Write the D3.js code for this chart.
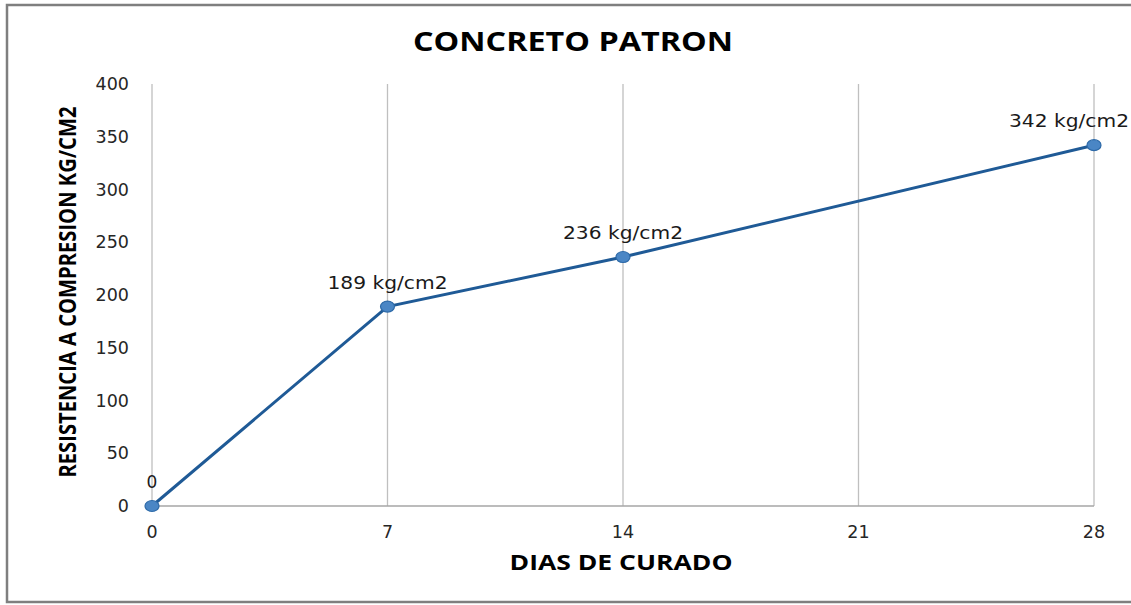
<!DOCTYPE html>
<html>
<head>
<meta charset="utf-8">
<script src="https://cdn.jsdelivr.net/npm/d3@7.9.0/dist/d3.min.js"></script>
<style>
  html, body { margin: 0; padding: 0; background: #fff; }
  svg { display: block; font-family: "Open Sans", "DejaVu Sans", sans-serif; }
  .tick-label { font-family: "DejaVu Sans", sans-serif; }
</style>
</head>
<body>
<svg id="chart" width="1131" height="605"></svg>
<script>
const days = [0, 7, 14, 28];
const strength = [0, 189, 236, 342];
const pointLabels = ["0", "189 kg/cm2", "236 kg/cm2", "342 kg/cm2"];
const xTicks = [0, 7, 14, 21, 28];
const yTicks = [0, 50, 100, 150, 200, 250, 300, 350, 400];

const svg = d3.select("#chart");

// outer frame (right side runs off the picture)
svg.append("rect")
  .attr("x", 7).attr("y", 5)
  .attr("width", 1140).attr("height", 597)
  .attr("fill", "#fff")
  .attr("stroke", "#7f7f7f")
  .attr("stroke-width", 2.5);

const x = d3.scaleLinear().domain([0, 28]).range([152, 1094]);
const y = d3.scaleLinear().domain([0, 400]).range([506, 84]);

// vertical gridlines
svg.append("g")
  .selectAll("line")
  .data(xTicks)
  .join("line")
  .attr("x1", (d) => x(d)).attr("x2", (d) => x(d))
  .attr("y1", y(400)).attr("y2", y(0))
  .attr("stroke", "#bfbfbf")
  .attr("stroke-width", 1.3);

// horizontal axis line
svg.append("line")
  .attr("x1", x(0)).attr("x2", x(28))
  .attr("y1", y(0)).attr("y2", y(0))
  .attr("stroke", "#a6a6a6")
  .attr("stroke-width", 1.3);

// tick labels (wide, like the stretched original)
svg.append("g")
  .selectAll("text")
  .data(yTicks)
  .join("text")
  .attr("class", "tick-label")
  .attr("x", 129)
  .attr("y", (d) => y(d) + 6)
  .attr("text-anchor", "end")
  .attr("font-size", 17.5)
  .attr("fill", "#262626")
  .text((d) => d);

svg.append("g")
  .selectAll("text")
  .data(xTicks)
  .join("text")
  .attr("class", "tick-label")
  .attr("x", (d) => x(d))
  .attr("y", 538)
  .attr("text-anchor", "middle")
  .attr("font-size", 17.5)
  .attr("fill", "#262626")
  .text((d) => d);

// title and axis titles
svg.append("text")
  .attr("x", 573).attr("y", 51)
  .attr("text-anchor", "middle")
  .attr("font-size", 27)
  .attr("font-weight", "bold")
  .attr("textLength", 320)
  .attr("lengthAdjust", "spacingAndGlyphs")
  .text("CONCRETO PATRON");

svg.append("text")
  .attr("x", 621).attr("y", 570)
  .attr("text-anchor", "middle")
  .attr("font-size", 22)
  .attr("font-weight", "bold")
  .attr("textLength", 223)
  .attr("lengthAdjust", "spacingAndGlyphs")
  .text("DIAS DE CURADO");

svg.append("text")
  .attr("transform", "translate(76,292) rotate(-90)")
  .attr("text-anchor", "middle")
  .attr("font-size", 24)
  .attr("font-weight", "bold")
  .attr("textLength", 371)
  .attr("lengthAdjust", "spacingAndGlyphs")
  .text("RESISTENCIA A COMPRESION KG/CM2");

// series line
const points = days.map((d, i) => ({ day: d, value: strength[i], label: pointLabels[i] }));

const line = d3.line()
  .x((d) => x(d.day))
  .y((d) => y(d.value));

svg.append("path")
  .datum(points)
  .attr("d", line)
  .attr("fill", "none")
  .attr("stroke", "#1f5a96")
  .attr("stroke-width", 3);

svg.append("g")
  .selectAll("ellipse")
  .data(points)
  .join("ellipse")
  .attr("cx", (d) => x(d.day))
  .attr("cy", (d) => y(d.value))
  .attr("rx", 7)
  .attr("ry", 5.5)
  .attr("fill", "#4a86c5")
  .attr("stroke", "#2e6aa8")
  .attr("stroke-width", 1.2);

// data labels
const labels = svg.append("g")
  .selectAll("text")
  .data(points)
  .join("text")
  .attr("class", "tick-label")
  .attr("x", (d, i) => (i === points.length - 1 ? 1129 : x(d.day)))
  .attr("y", (d) => y(d.value) - 18)
  .attr("text-anchor", (d, i) => (i === points.length - 1 ? "end" : "middle"))
  .attr("font-size", 17)
  .attr("fill", "#1a1a1a")
  .text((d) => d.label);

labels.filter((d) => d.label.length > 1)
  .attr("textLength", 120)
  .attr("lengthAdjust", "spacingAndGlyphs");
</script>
</body>
</html>
